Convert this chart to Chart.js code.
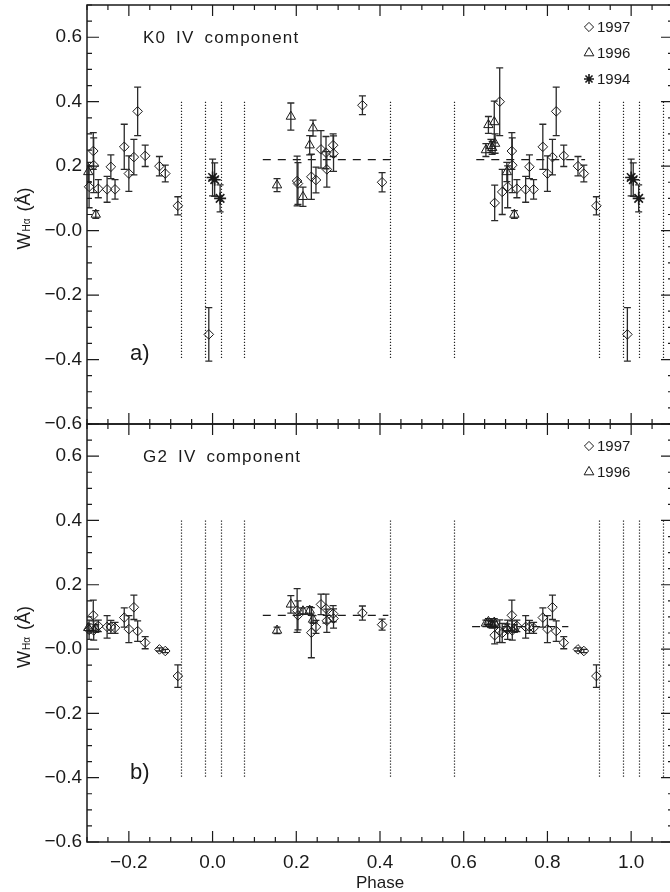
<!DOCTYPE html>
<html>
<head>
<meta charset="utf-8">
<title>H-alpha equivalent width vs phase</title>
<script src="https://cdn.jsdelivr.net/npm/chart.js@4.4.0/dist/chart.umd.min.js"></script>
<style>
  html, body { margin: 0; padding: 0; background: #fff; overflow: hidden; }
  #wrap { position: relative; width: 670px; height: 892px; overflow: hidden; }
  canvas { position: absolute; left: 0; }
  #chart-a { top: 0; }
  #chart-b { top: 420px; }
</style>
</head>
<body>
<div id="wrap">
  <canvas id="chart-a" width="680" height="430"></canvas>
  <canvas id="chart-b" width="680" height="472"></canvas>
</div>
<script>
// Axes
const phaseMin = -0.3;
const phaseMax = 1.1;
const wMin = -0.6;
const wMax = 0.7;
const xTickValues = [-0.2, 0.0, 0.2, 0.4, 0.6, 0.8, 1.0];
const xTickLabels = ['\u22120.2', '0.0', '0.2', '0.4', '0.6', '0.8', '1.0'];
const yTickValues = [-0.6, -0.4, -0.2, 0.0, 0.2, 0.4, 0.6];
const yTickLabels = ['\u22120.6', '\u22120.4', '\u22120.2', '\u22120.0', '0.2', '0.4', '0.6'];

// 1997 spectra (one orbital cycle; repeated at phase +/- 1 inside the plot range)
const phase1997 = [0.202, 0.204, 0.236, 0.247, 0.259, 0.271, 0.273, 0.288, 0.289, 0.358, 0.405,
  0.674, 0.686, 0.692, 0.705, 0.715, 0.716, 0.727, 0.748, 0.757, 0.767, 0.789, 0.800, 0.812, 0.821, 0.839, 0.873, 0.887, 0.917, 0.991];
const k0_1997 = [0.154, 0.146, 0.167, 0.157, 0.252, 0.242, 0.190, 0.265, 0.239, 0.389, 0.150,
  0.086, 0.400, 0.120, 0.136, 0.247, 0.203, 0.130, 0.128, 0.198, 0.128, 0.260, 0.177, 0.228, 0.370, 0.232, 0.200, 0.177, 0.077, -0.322];
const k0Err1997 = [0.077, 0.065, 0.070, 0.040, 0.058, 0.050, 0.055, 0.035, 0.055, 0.029, 0.030,
  0.055, 0.105, 0.070, 0.065, 0.057, 0.085, 0.028, 0.040, 0.037, 0.030, 0.070, 0.055, 0.055, 0.075, 0.033, 0.030, 0.026, 0.028, 0.083];
const g2_1997 = [0.120, 0.105, 0.051, 0.069, 0.139, 0.126, 0.088, 0.110, 0.095, 0.112, 0.076,
  0.043, 0.056, 0.050, 0.060, 0.105, 0.058, 0.072, 0.069, 0.069, 0.066, 0.098, 0.062, 0.130, 0.056, 0.020, -0.001, -0.006, -0.084, null];
const g2Err1997 = [0.068, 0.045, 0.078, 0.020, 0.032, 0.045, 0.036, 0.025, 0.030, 0.022, 0.017,
  0.027, 0.035, 0.030, 0.030, 0.047, 0.030, 0.018, 0.035, 0.020, 0.017, 0.030, 0.042, 0.038, 0.032, 0.019, 0.005, 0.005, 0.035, null];

// 1996 spectra
const phase1996 = [0.154, 0.187, 0.216, 0.232, 0.240, 0.653, 0.659, 0.665, 0.668, 0.673, 0.675, 0.703, 0.721];
const k0_1996 = [0.141, 0.354, 0.105, 0.265, 0.318, 0.250, 0.328, 0.263, 0.257, 0.337, 0.270, 0.182, 0.050];
const k0Err1996 = [0.020, 0.042, 0.030, 0.030, 0.025, 0.020, 0.026, 0.020, 0.020, 0.065, 0.030, 0.030, 0.012];
const g2_1996 = [0.058, 0.139, 0.118, 0.120, 0.092, 0.080, 0.085, 0.079, 0.075, 0.083, 0.077, 0.066, 0.064];
const g2Err1996 = [0.010, 0.027, 0.010, 0.012, 0.012, 0.010, 0.010, 0.010, 0.010, 0.012, 0.010, 0.012, 0.012];

// 1994 spectra (K0 IV only)
const phase1994 = [0.000, 0.005, 0.018];
const k0_1994 = [0.165, 0.158, 0.100];
const k0Err1994 = [0.057, 0.052, 0.042];

// Eclipse contact phases (dotted lines) and their vertical extent
const contactPhases = [-0.076, -0.019, 0.019, 0.076, 0.424, 0.576, 0.924, 0.981, 1.019, 1.076];
const contactRange = [-0.4, 0.4];

// Mean levels outside eclipse (dashed lines)
const k0MeanLevel = [0.22, 0.22];
const k0MeanFrom = [0.12, 0.63];
const k0MeanTo = [0.425, 0.89];
const g2MeanLevel = [0.105, 0.07];
const g2MeanFrom = [0.12, 0.62];
const g2MeanTo = [0.42, 0.85];

const legendYears = ['1997', '1996', '1994'];
const legendStyles = ['rectRot', 'triangle', 'star'];

const INK = '#1a1a1a';

/**
 * Put each phase in the plot, also shifted by one cycle when it still falls inside
 */
function foldPoints(phases, values, errors) {
  const points = [];
  phases.forEach((p, i) => {
    if (values[i] === null) return;
    [-1, 0, 1].forEach(k => {
      const x = p + k;
      if (x >= phaseMin && x <= phaseMax) {
        points.push({ x: x, y: values[i], e: errors[i] });
      }
    });
  });
  return points;
}

function markerDataset(label, points, style) {
  const isStar = style === 'star';
  return {
    label: label,
    data: points,
    pointStyle: style,
    pointRadius: isStar ? 6 : (style === 'triangle' ? 5.4 : 4.8),
    pointBorderWidth: isStar ? 1.6 : 1,
    borderColor: INK,
    backgroundColor: 'rgba(0,0,0,0)',
    showLine: false
  };
}

function drawSymbol(ctx, style, x, y, r) {
  ctx.beginPath();
  if (style === 'rectRot') {
    ctx.moveTo(x, y - r);
    ctx.lineTo(x + r, y);
    ctx.lineTo(x, y + r);
    ctx.lineTo(x - r, y);
    ctx.closePath();
    ctx.lineWidth = 1;
  } else if (style === 'triangle') {
    const h = r * 0.866;
    ctx.moveTo(x, y - r);
    ctx.lineTo(x + h, y + r / 2);
    ctx.lineTo(x - h, y + r / 2);
    ctx.closePath();
    ctx.lineWidth = 1;
  } else {
    for (let k = 0; k < 4; k++) {
      const ang = k * Math.PI / 4;
      ctx.moveTo(x - r * Math.cos(ang), y - r * Math.sin(ang));
      ctx.lineTo(x + r * Math.cos(ang), y + r * Math.sin(ang));
    }
    ctx.lineWidth = 1.6;
  }
  ctx.stroke();
}

/**
 * Per-panel drawing: reference lines, error bars, frame with inward ticks, texts
 */
function panelPlugin(panel) {
  return {
    id: 'panelDecor',
    beforeDatasetsDraw(chart) {
      const { ctx, chartArea: a, scales: { x, y } } = chart;
      ctx.save();
      ctx.beginPath();
      ctx.rect(a.left, a.top, a.width, a.height);
      ctx.clip();

      // dotted contact lines
      ctx.strokeStyle = '#222';
      ctx.lineWidth = 1.2;
      ctx.setLineDash([1.2, 1.8]);
      contactPhases.forEach(p => {
        const px = Math.round(x.getPixelForValue(p)) + 0.5;
        ctx.beginPath();
        ctx.moveTo(px, y.getPixelForValue(contactRange[1]));
        ctx.lineTo(px, y.getPixelForValue(contactRange[0]));
        ctx.stroke();
      });

      // dashed mean levels
      ctx.setLineDash([8, 7]);
      ctx.lineWidth = 1.2;
      ctx.strokeStyle = INK;
      panel.meanLevel.forEach((lvl, i) => {
        const py = y.getPixelForValue(lvl);
        ctx.beginPath();
        ctx.moveTo(x.getPixelForValue(panel.meanFrom[i]), py);
        ctx.lineTo(x.getPixelForValue(panel.meanTo[i]), py);
        ctx.stroke();
      });

      // error bars
      ctx.setLineDash([]);
      ctx.strokeStyle = '#2a2a2a';
      ctx.lineWidth = 1.3;
      chart.data.datasets.forEach(ds => {
        ds.data.forEach(d => {
          const px = x.getPixelForValue(d.x);
          const top = y.getPixelForValue(d.y + d.e);
          const bot = y.getPixelForValue(d.y - d.e);
          ctx.beginPath();
          ctx.moveTo(px, top);
          ctx.lineTo(px, bot);
          ctx.moveTo(px - 3.5, top);
          ctx.lineTo(px + 3.5, top);
          ctx.moveTo(px - 3.5, bot);
          ctx.lineTo(px + 3.5, bot);
          ctx.stroke();
        });
      });
      ctx.restore();
    },
    afterDraw(chart) {
      const { ctx, chartArea: a, scales: { x, y } } = chart;
      ctx.save();
      ctx.strokeStyle = INK;
      ctx.lineWidth = 1.5;
      ctx.strokeRect(a.left, a.top, a.width, a.height);

      // inward ticks, minor every 0.05
      ctx.lineWidth = 1.2;
      ctx.beginPath();
      const kx0 = Math.ceil(phaseMin / 0.05 - 1e-6);
      const kx1 = Math.floor(phaseMax / 0.05 + 1e-6);
      for (let k = kx0; k <= kx1; k++) {
        const px = x.getPixelForValue(k * 0.05);
        const len = (k % 4 === 0) ? 11 : 5;
        ctx.moveTo(px, a.bottom);
        ctx.lineTo(px, a.bottom - len);
        ctx.moveTo(px, a.top);
        ctx.lineTo(px, a.top + len);
      }
      const ky0 = Math.ceil(wMin / 0.05 - 1e-6);
      const ky1 = Math.floor(wMax / 0.05 + 1e-6);
      for (let k = ky0; k <= ky1; k++) {
        const py = y.getPixelForValue(k * 0.05);
        const len = (k % 4 === 0) ? 12 : 5;
        ctx.moveTo(a.left, py);
        ctx.lineTo(a.left + len, py);
        ctx.moveTo(a.right, py);
        ctx.lineTo(a.right - len, py);
      }
      ctx.stroke();

      ctx.fillStyle = INK;
      ctx.textAlign = 'left';
      ctx.textBaseline = 'alphabetic';

      // component title
      ctx.font = '17px "Liberation Sans"';
      ctx.letterSpacing = '1.2px';
      ctx.wordSpacing = '4px';
      ctx.fillText(panel.title, a.left + 56, a.top + 38);
      ctx.letterSpacing = '0px';
      ctx.wordSpacing = '0px';

      // panel letter
      ctx.font = '22px "Liberation Sans"';
      ctx.fillText(panel.letter, a.left + 43, a.top + 355);

      // legend
      ctx.font = '15px "Liberation Sans"';
      ctx.strokeStyle = INK;
      panel.legendRows.forEach((row, i) => {
        const base = a.top + 27 + i * 26;
        const st = legendStyles[row];
        drawSymbol(ctx, st, a.right - 84, base - 5, st === 'triangle' ? 5.6 : (st === 'star' ? 5 : 4.6));
        ctx.fillText(legendYears[row], a.right - 76, base);
      });

      // y title: W_Ha (A)
      ctx.save();
      ctx.translate(30, (a.top + a.bottom) / 2 + 4);
      ctx.rotate(-Math.PI / 2);
      const bigFont = '18px "Liberation Sans"';
      const smallFont = '10px "Liberation Sans"';
      ctx.font = bigFont;
      const wW = ctx.measureText('W').width;
      const wTail = ctx.measureText(' (\u00C5)').width;
      ctx.font = smallFont;
      const wSub = ctx.measureText('H\u03B1').width;
      const x0 = -(wW + wSub + wTail + 3) / 2;
      ctx.font = bigFont;
      ctx.fillText('W', x0, 0);
      ctx.font = smallFont;
      ctx.fillText('H\u03B1', x0 + wW + 1, 0);
      ctx.font = bigFont;
      ctx.fillText(' (\u00C5)', x0 + wW + wSub + 3, 0);
      ctx.restore();

      // x title
      if (panel.showX) {
        ctx.font = '17px "Liberation Sans"';
        ctx.textAlign = 'center';
        ctx.fillText('Phase', (a.left + a.right) / 2, a.bottom + 46);
      }
      ctx.restore();
    }
  };
}

function makeChart(canvasId, datasets, panel) {
  const tickFont = { family: '"Liberation Sans"', size: 19 };
  return new Chart(document.getElementById(canvasId), {
    type: 'scatter',
    data: { datasets: datasets },
    options: {
      responsive: false,
      animation: false,
      devicePixelRatio: 1,
      events: [],
      clip: false,
      layout: {
        autoPadding: false,
        padding: { top: panel.padTop, right: 7, left: 0, bottom: 0 }
      },
      plugins: { legend: { display: false }, tooltip: { enabled: false } },
      scales: {
        x: {
          type: 'linear',
          min: phaseMin,
          max: phaseMax,
          grid: { display: false, drawTicks: false },
          border: { display: false },
          afterBuildTicks: s => { s.ticks = xTickValues.map(v => ({ value: v })); },
          ticks: {
            display: panel.showX,
            autoSkip: false,
            maxRotation: 0,
            padding: 9,
            color: INK,
            font: tickFont,
            callback: (v, i) => xTickLabels[i]
          },
          afterFit: s => {
            s.height = panel.xHeight;
            s.paddingLeft = 0;
            s.paddingRight = 0;
          }
        },
        y: {
          type: 'linear',
          min: wMin,
          max: wMax,
          grid: { display: false, drawTicks: false },
          border: { display: false },
          afterBuildTicks: s => { s.ticks = yTickValues.map(v => ({ value: v })); },
          ticks: {
            autoSkip: false,
            padding: 5,
            color: INK,
            font: tickFont,
            callback: (v, i) => yTickLabels[i]
          },
          afterFit: s => {
            s.width = 87;
            s.paddingTop = 0;
            s.paddingBottom = 0;
          }
        }
      }
    },
    plugins: [panelPlugin(panel)]
  });
}

// Panel a: K0 IV component
makeChart('chart-a', [
  markerDataset('1997', foldPoints(phase1997, k0_1997, k0Err1997), 'rectRot'),
  markerDataset('1996', foldPoints(phase1996, k0_1996, k0Err1996), 'triangle'),
  markerDataset('1994', foldPoints(phase1994, k0_1994, k0Err1994), 'star')
], {
  title: 'K0 IV component',
  letter: 'a)',
  legendRows: [0, 1, 2],
  meanLevel: k0MeanLevel,
  meanFrom: k0MeanFrom,
  meanTo: k0MeanTo,
  padTop: 5,
  xHeight: 6,
  showX: false
});

// Panel b: G2 IV component
makeChart('chart-b', [
  markerDataset('1997', foldPoints(phase1997, g2_1997, g2Err1997), 'rectRot'),
  markerDataset('1996', foldPoints(phase1996, g2_1996, g2Err1996), 'triangle')
], {
  title: 'G2 IV component',
  letter: 'b)',
  legendRows: [0, 1],
  meanLevel: g2MeanLevel,
  meanFrom: g2MeanFrom,
  meanTo: g2MeanTo,
  padTop: 4,
  xHeight: 50,
  showX: true
});
</script>
</body>
</html>
